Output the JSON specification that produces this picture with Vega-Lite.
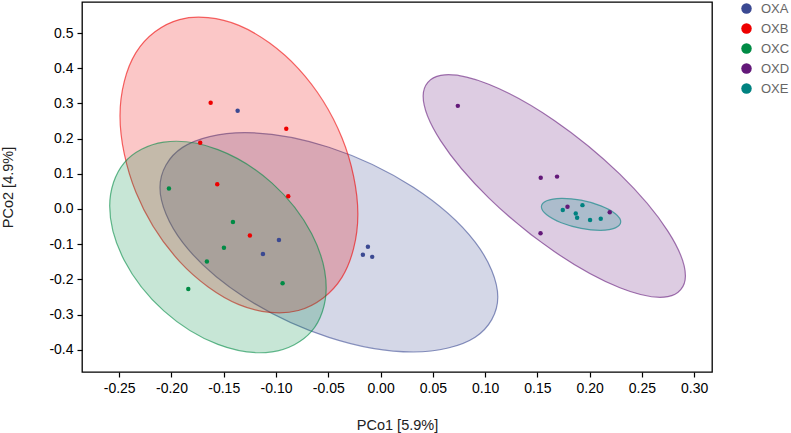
{
  "$schema": "https://vega.github.io/schema/vega-lite/v6.json",
  "width": 630,
  "height": 370,
  "autosize": {"type": "none"},
  "padding": {"left": 82, "top": 2, "right": 79, "bottom": 61},
  "background": "white",
  "config": {"view": {"stroke": "#000", "strokeWidth": 1.3}, "font": "Liberation Sans"},
  "datasets": {
    "points": [
      {"g": "OXA", "x": -0.1367, "y": 0.279},
      {"g": "OXA", "x": -0.0972, "y": -0.088},
      {"g": "OXA", "x": -0.1125, "y": -0.128},
      {"g": "OXA", "x": -0.0121, "y": -0.107},
      {"g": "OXA", "x": -0.0169, "y": -0.130},
      {"g": "OXA", "x": -0.0080, "y": -0.136},
      {"g": "OXB", "x": -0.1625, "y": 0.302},
      {"g": "OXB", "x": -0.0902, "y": 0.228},
      {"g": "OXB", "x": -0.1725, "y": 0.188},
      {"g": "OXB", "x": -0.1562, "y": 0.070},
      {"g": "OXB", "x": -0.0883, "y": 0.036},
      {"g": "OXB", "x": -0.1250, "y": -0.075},
      {"g": "OXC", "x": -0.2024, "y": 0.058},
      {"g": "OXC", "x": -0.1412, "y": -0.037},
      {"g": "OXC", "x": -0.1498, "y": -0.110},
      {"g": "OXC", "x": -0.1661, "y": -0.149},
      {"g": "OXC", "x": -0.0937, "y": -0.211},
      {"g": "OXC", "x": -0.1839, "y": -0.227},
      {"g": "OXD", "x": 0.0739, "y": 0.293},
      {"g": "OXD", "x": 0.1532, "y": 0.089},
      {"g": "OXD", "x": 0.1688, "y": 0.092},
      {"g": "OXD", "x": 0.1788, "y": 0.0065},
      {"g": "OXD", "x": 0.2192, "y": -0.0094},
      {"g": "OXD", "x": 0.1530, "y": -0.069},
      {"g": "OXE", "x": 0.1743, "y": -0.003},
      {"g": "OXE", "x": 0.1931, "y": 0.011},
      {"g": "OXE", "x": 0.1867, "y": -0.013},
      {"g": "OXE", "x": 0.1880, "y": -0.025},
      {"g": "OXE", "x": 0.2004, "y": -0.031},
      {"g": "OXE", "x": 0.2106, "y": -0.028}
    ],
    "ellipses": [
      {"g": "OXA", "i": 0, "x": 0.11214, "y": -0.25005},
      {"g": "OXA", "i": 1, "x": 0.09049, "y": -0.36428},
      {"g": "OXA", "i": 2, "x": 0.03136, "y": -0.40625},
      {"g": "OXA", "i": 3, "x": -0.04943, "y": -0.36471},
      {"g": "OXA", "i": 4, "x": -0.13022, "y": -0.25079},
      {"g": "OXA", "i": 5, "x": -0.18935, "y": -0.09504},
      {"g": "OXA", "i": 6, "x": -0.21100, "y": 0.06085},
      {"g": "OXA", "i": 7, "x": -0.18935, "y": 0.17508},
      {"g": "OXA", "i": 8, "x": -0.13022, "y": 0.21705},
      {"g": "OXA", "i": 9, "x": -0.04943, "y": 0.17551},
      {"g": "OXA", "i": 10, "x": 0.03136, "y": 0.06159},
      {"g": "OXA", "i": 11, "x": 0.09049, "y": -0.09416},
      {"g": "OXB", "i": 0, "x": -0.02170, "y": -0.01457},
      {"g": "OXB", "i": 1, "x": -0.03694, "y": -0.19417},
      {"g": "OXB", "i": 2, "x": -0.07858, "y": -0.28825},
      {"g": "OXB", "i": 3, "x": -0.13547, "y": -0.27159},
      {"g": "OXB", "i": 4, "x": -0.19236, "y": -0.14867},
      {"g": "OXB", "i": 5, "x": -0.23400, "y": 0.04757},
      {"g": "OXB", "i": 6, "x": -0.24924, "y": 0.26457},
      {"g": "OXB", "i": 7, "x": -0.23400, "y": 0.44417},
      {"g": "OXB", "i": 8, "x": -0.19236, "y": 0.53825},
      {"g": "OXB", "i": 9, "x": -0.13547, "y": 0.52159},
      {"g": "OXB", "i": 10, "x": -0.07858, "y": 0.39867},
      {"g": "OXB", "i": 11, "x": -0.03694, "y": 0.20243},
      {"g": "OXC", "i": 0, "x": -0.05200, "y": -0.22440},
      {"g": "OXC", "i": 1, "x": -0.06587, "y": -0.34720},
      {"g": "OXC", "i": 2, "x": -0.10377, "y": -0.40589},
      {"g": "OXC", "i": 3, "x": -0.15554, "y": -0.38474},
      {"g": "OXC", "i": 4, "x": -0.20731, "y": -0.28943},
      {"g": "OXC", "i": 5, "x": -0.24521, "y": -0.14550},
      {"g": "OXC", "i": 6, "x": -0.25908, "y": 0.00850},
      {"g": "OXC", "i": 7, "x": -0.24521, "y": 0.13130},
      {"g": "OXC", "i": 8, "x": -0.20731, "y": 0.18999},
      {"g": "OXC", "i": 9, "x": -0.15554, "y": 0.16884},
      {"g": "OXC", "i": 10, "x": -0.10377, "y": 0.07353},
      {"g": "OXC", "i": 11, "x": -0.06587, "y": -0.07040},
      {"g": "OXD", "i": 0, "x": 0.29159, "y": -0.19017},
      {"g": "OXD", "i": 1, "x": 0.27479, "y": -0.24908},
      {"g": "OXD", "i": 2, "x": 0.22888, "y": -0.22374},
      {"g": "OXD", "i": 3, "x": 0.16616, "y": -0.12094},
      {"g": "OXD", "i": 4, "x": 0.10344, "y": 0.03178},
      {"g": "OXD", "i": 5, "x": 0.05753, "y": 0.19348},
      {"g": "OXD", "i": 6, "x": 0.04073, "y": 0.32085},
      {"g": "OXD", "i": 7, "x": 0.05753, "y": 0.37976},
      {"g": "OXD", "i": 8, "x": 0.10344, "y": 0.35442},
      {"g": "OXD", "i": 9, "x": 0.16616, "y": 0.25162},
      {"g": "OXD", "i": 10, "x": 0.22888, "y": 0.09890},
      {"g": "OXD", "i": 11, "x": 0.27479, "y": -0.06280},
      {"g": "OXE", "i": 0, "x": 0.22973, "y": -0.03645},
      {"g": "OXE", "i": 1, "x": 0.22465, "y": -0.05365},
      {"g": "OXE", "i": 2, "x": 0.21076, "y": -0.06050},
      {"g": "OXE", "i": 3, "x": 0.19178, "y": -0.05517},
      {"g": "OXE", "i": 4, "x": 0.17280, "y": -0.03910},
      {"g": "OXE", "i": 5, "x": 0.15891, "y": -0.01659},
      {"g": "OXE", "i": 6, "x": 0.15383, "y": 0.00633},
      {"g": "OXE", "i": 7, "x": 0.15891, "y": 0.02353},
      {"g": "OXE", "i": 8, "x": 0.17280, "y": 0.03038},
      {"g": "OXE", "i": 9, "x": 0.19178, "y": 0.02505},
      {"g": "OXE", "i": 10, "x": 0.21076, "y": 0.00898},
      {"g": "OXE", "i": 11, "x": 0.22465, "y": -0.01353}
    ]
  },
  "layer": [
    {
      "data": {"name": "ellipses"},
      "mark": {"type": "line", "interpolate": "cardinal-closed", "fillOpacity": 0.22, "strokeOpacity": 0.6, "strokeWidth": 1.2},
      "encoding": {
        "x": {
          "field": "x", "type": "quantitative",
          "scale": {"domain": [-0.28557, 0.31702], "nice": false, "zero": false},
          "axis": {
            "values": [-0.25, -0.2, -0.15, -0.1, -0.05, 0, 0.05, 0.1, 0.15, 0.2, 0.25, 0.3],
            "format": ".2f",
            "labelExpr": "replace(datum.label, '\u2212', '-')",
            "title": "PCo1 [5.9%]",
            "grid": false, "domain": false,
            "tickColor": "#000", "tickSize": 5, "tickWidth": 1.2,
            "labelFontSize": 14, "labelColor": "#000", "labelPadding": 4,
            "titleFontSize": 14.5, "titleFontWeight": "normal", "titleColor": "#222",
            "titleY": 53, "titleBaseline": "middle"
          }
        },
        "y": {
          "field": "y", "type": "quantitative",
          "scale": {"domain": [-0.4631, 0.5881], "nice": false, "zero": false},
          "axis": {
            "values": [-0.4, -0.3, -0.2, -0.1, 0, 0.1, 0.2, 0.3, 0.4, 0.5],
            "format": ".1f",
            "labelExpr": "replace(datum.label, '\u2212', '-')",
            "title": "PCo2 [4.9%]",
            "grid": false, "domain": false,
            "tickColor": "#000", "tickSize": 5, "tickWidth": 1.2,
            "labelFontSize": 14, "labelColor": "#000", "labelPadding": 4,
            "titleFontSize": 14.5, "titleFontWeight": "normal", "titleColor": "#222",
            "titleX": -74, "titleBaseline": "middle"
          }
        },
        "order": {"field": "i", "type": "quantitative"},
        "fill": {
          "field": "g", "type": "nominal",
          "scale": {"range": ["#3B4992", "#EE0000", "#008B45", "#631879", "#008280"]},
          "legend": null
        },
        "stroke": {
          "field": "g", "type": "nominal",
          "scale": {"range": ["#3B4992", "#EE0000", "#008B45", "#631879", "#008280"]},
          "legend": null
        }
      }
    },
    {
      "data": {"name": "points"},
      "mark": {"type": "circle", "size": 20, "opacity": 1},
      "encoding": {
        "x": {"field": "x", "type": "quantitative"},
        "y": {"field": "y", "type": "quantitative"},
        "color": {
          "field": "g", "type": "nominal",
          "scale": {"domain": ["OXA", "OXB", "OXC", "OXD", "OXE"], "range": ["#3B4992", "#EE0000", "#008B45", "#631879", "#008280"]},
          "legend": {
            "title": null, "orient": "none", "legendX": 658, "legendY": 0,
            "symbolType": "circle", "symbolSize": 110, "symbolStrokeWidth": 0,
            "labelFontSize": 13, "labelColor": "#666", "labelOffset": 8, "rowPadding": 6
          }
        }
      }
    }
  ]
}
